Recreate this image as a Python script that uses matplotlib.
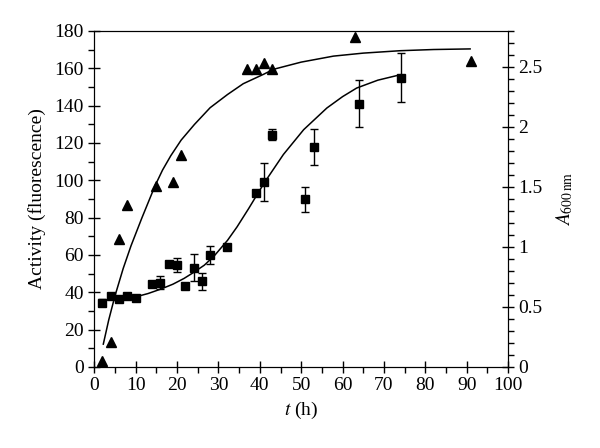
import matplotlib
matplotlib.use('Agg')
import matplotlib.pyplot as plt
from matplotlib.ticker import MultipleLocator
import numpy as np

plt.rcParams['font.family'] = 'Liberation Serif'
plt.rcParams['mathtext.fontset'] = 'stix'
plt.rcParams['font.size'] = 14

# activity (squares, left axis)
t_act = [2, 4, 6, 8, 10, 14, 16, 18, 20, 22, 24, 26, 28, 32, 39, 41, 43, 51, 53, 64, 74]
act = [34.5, 37.8, 36.3, 38.1, 36.7, 44.3, 45.2, 55, 54.7, 43.4, 53.2, 45.8, 60, 64.5,
       93.3, 99, 124.5, 89.7, 117.7, 141, 155]
act_err = [2, 0, 0, 0, 0, 0, 3.7, 0, 3.8, 0, 7.3, 4.4, 4.9, 0, 0, 10.2, 3.1, 6.8, 9.5, 12.6, 13.2]

# fitted activity curve
t_act_fit = [8, 10.5, 13, 16.1, 19, 21.7, 24, 26.6, 29, 32.2, 34.5, 37.3, 41.1, 45.7,
             50.6, 56.2, 60, 63.4, 68.5, 73.9]
act_fit = [37.3, 37.8, 39.3, 41.7, 44.3, 47.4, 50.6, 54.5, 59.5, 67.8, 75.0, 84.8, 98.7,
           113.8, 127.1, 138.7, 144.8, 149.4, 153.6, 156.5]

# growth A600 (triangles, right axis)
t_od = [2, 4, 6, 8, 15, 19, 21, 37, 39, 41, 43, 63, 91]
od = [0.05, 0.21, 1.07, 1.35, 1.51, 1.54, 1.77, 2.48, 2.48, 2.53, 2.48, 2.75, 2.55]

# fitted growth curve
t_od_fit = [2.2, 3.5, 5, 7, 8.9, 11.5, 14.7, 16.5, 18.5, 21, 24.2, 28, 32.2, 36, 41,
            43.3, 50, 57.8, 65, 73.9, 82, 90.8]
od_fit = [0.19, 0.39, 0.59, 0.82, 1.01, 1.24, 1.51, 1.64, 1.76, 1.89, 2.02, 2.16, 2.27,
          2.36, 2.44, 2.48, 2.54, 2.59, 2.615, 2.635, 2.645, 2.65]

fig = plt.figure(figsize=(6, 4.48), dpi=100)
ax1 = fig.add_axes([0.157, 0.181, 0.690, 0.750])
ax2 = ax1.twinx()

ax1.errorbar(t_act, act, yerr=act_err, fmt='s', color='k', ms=5.5, capsize=3,
             elinewidth=1, capthick=1)
ax1.plot(t_act_fit, act_fit, color='k', lw=1.1)

ax2.plot(t_od, od, '^', color='k', ms=7.5)
ax2.plot(t_od_fit, od_fit, color='k', lw=1.1)

ax1.set_xlim(0, 100)
ax1.set_ylim(0, 180)
ax2.set_ylim(0, 2.8)

ax1.xaxis.set_major_locator(MultipleLocator(10))
ax1.xaxis.set_minor_locator(MultipleLocator(5))
ax1.yaxis.set_major_locator(MultipleLocator(20))
ax1.yaxis.set_minor_locator(MultipleLocator(10))
ax2.yaxis.set_minor_locator(MultipleLocator(0.1))
ax2.set_yticks([0, 0.5, 1, 1.5, 2, 2.5])
ax2.set_yticklabels(['0', '0.5', '1', '1.5', '2', '2.5'])

for ax in (ax1, ax2):
    ax.tick_params(which='major', direction='inout', length=8, width=1)
    ax.tick_params(which='minor', direction='out', length=4, width=1)
ax1.tick_params(top=False, right=False)

ax1.set_xlabel('$t$ (h)', labelpad=4)
ax1.set_ylabel('Activity (fluorescence)', labelpad=6)
ax2.set_ylabel(r'$A_{\mathrm{600\,nm}}$', labelpad=8)

fig.savefig('out.png', dpi=100)
